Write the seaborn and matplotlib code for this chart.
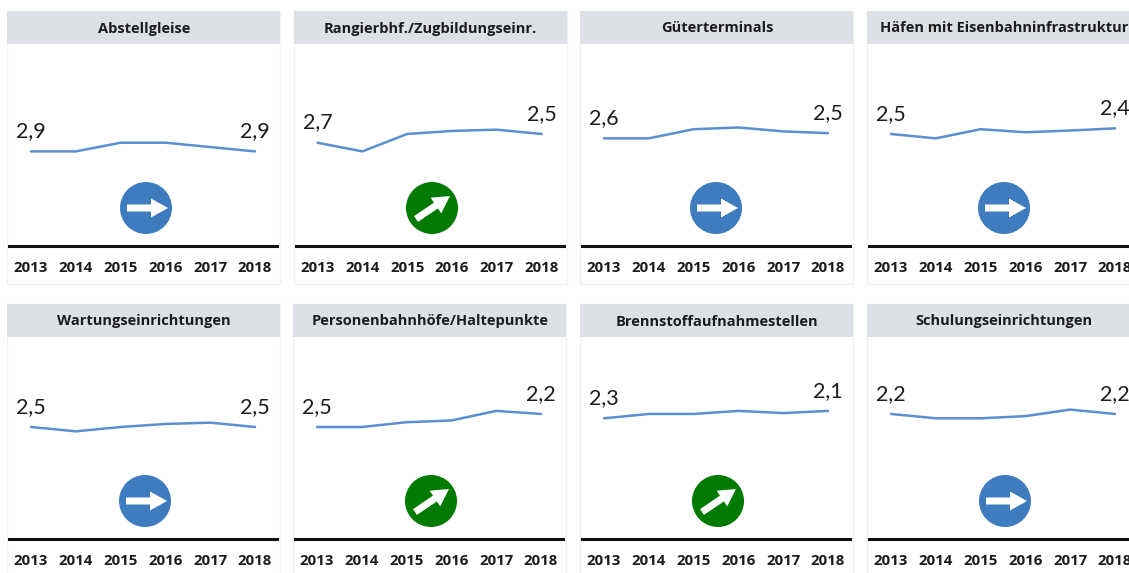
import matplotlib
matplotlib.use("Agg")
import matplotlib.pyplot as plt
import seaborn as sns
from matplotlib.patches import Circle, FancyArrow, Rectangle
from matplotlib.transforms import IdentityTransform

W, H = 1129, 573

years = [2013, 2014, 2015, 2016, 2017, 2018]

titles = [
    "Abstellgleise", "Rangierbhf./Zugbildungseinr.",
    "Güterterminals", "Häfen mit Eisenbahninfrastruktur",
    "Wartungseinrichtungen", "Personenbahnhöfe/Haltepunkte",
    "Brennstoffaufnahmestellen", "Schulungseinrichtungen",
]

abstell = [2.9, 2.9, 2.7, 2.7, 2.8, 2.9]
rangier = [2.7, 2.9, 2.5, 2.43, 2.4, 2.5]
gueter = [2.6, 2.6, 2.39, 2.35, 2.44, 2.48]
haefen = [2.5, 2.6, 2.39, 2.46, 2.42, 2.37]
wartung = [2.5, 2.6, 2.5, 2.43, 2.4, 2.5]
personen = [2.5, 2.5, 2.39, 2.35, 2.13, 2.2]
brennstoff = [2.3, 2.2, 2.2, 2.13, 2.18, 2.13]
schulung = [2.2, 2.3, 2.3, 2.25, 2.1, 2.2]

series = [abstell, rangier, gueter, haefen, wartung, personen, brennstoff, schulung]

first_labels = ["2,9", "2,7", "2,6", "2,5", "2,5", "2,5", "2,3", "2,2"]
last_labels = ["2,9", "2,5", "2,5", "2,4", "2,5", "2,2", "2,1", "2,2"]
trends = ["flat", "up", "flat", "flat", "flat", "up", "up", "flat"]

LINE = "#5b8fd0"
BLUE = "#3f7cbf"
GREEN = "#007a00"
HEADER = "#dde1e5"
EDGE = "#f1f2f3"
TEXT = "#1c1c1c"

sns.set_theme(style="white")
plt.rcParams["font.family"] = ["Open Sans", "DejaVu Sans"]

fig = plt.figure(figsize=(W / 100, H / 100), dpi=100)

# panel left edges, header tops and icon centres in pixels
lefts = [7, 293.5, 580, 867, 7, 293, 580, 867]
tops = [11, 11, 11, 11, 304, 304, 304, 304]
icon_x = [146, 432, 716, 1004, 145, 431, 718, 1005]
PANEL_W = 273
SPACING = 44.8


def flip(y):
    return H - y


def add_icon(cx, cy, trend):
    color = GREEN if trend == "up" else BLUE
    fig.add_artist(Circle((cx, flip(cy)), 26, transform=IdentityTransform(), fc=color, ec="none", zorder=6))
    if trend == "up":
        start, dx, dy = (cx - 16, flip(cy + 11)), 34, 23
    else:
        start, dx, dy = (cx - 19, flip(cy)), 41, 0
    fig.add_artist(FancyArrow(start[0], start[1], dx, dy, width=7, head_width=19, head_length=17,
                              length_includes_head=True, transform=IdentityTransform(),
                              fc="white", ec="none", zorder=7))


for i, vals in enumerate(series):
    x0, y0 = lefts[i], tops[i]
    line_y = y0 + 235
    # white panel frame and grey header
    fig.add_artist(Rectangle((x0, flip(y0 + 273)), PANEL_W, 273, transform=IdentityTransform(),
                             fc="white", ec=EDGE, lw=1, zorder=-2))
    fig.add_artist(Rectangle((x0, flip(y0 + 33)), PANEL_W, 33, transform=IdentityTransform(),
                             fc=HEADER, ec="none", zorder=-1))
    fig.text((x0 + PANEL_W / 2 + 0.5) / W, flip(y0 + 16) / H, titles[i], ha="center", va="center_baseline",
             fontsize=10.5, fontweight="bold", color=TEXT)

    ax = fig.add_axes([(x0 + 2) / W, flip(line_y) / H, 268 / W, 202 / H])
    ax.patch.set_alpha(0)
    sns.lineplot(x=years, y=vals, ax=ax, color=LINE, linewidth=1.8, errorbar=None)
    ax.set_xlim(2013 - 22 / SPACING, 2013 + 246 / SPACING)
    # inverted grade scale: lower values sit higher
    ax.set_ylim(2.5 + 112 / 43.5, 2.5 - 90 / 43.5)
    ax.set_xticks(years)
    ax.set_xticklabels([str(y) for y in years], fontsize=10.8, fontweight="bold", color=TEXT)
    ax.set_yticks([])
    ax.tick_params(axis="x", length=0, pad=11)
    for side in ["top", "left", "right"]:
        ax.spines[side].set_visible(False)
    ax.spines["bottom"].set_color("#111111")
    ax.spines["bottom"].set_linewidth(2.2)
    ax.set_xlabel("")
    ax.set_ylabel("")

    ax.annotate(first_labels[i], (years[0], vals[0]), xytext=(0, 14.5), textcoords="offset points",
                ha="center", va="center", fontsize=15.5, family="Lato", color=TEXT, annotation_clip=False)
    ax.annotate(last_labels[i], (years[-1], vals[-1]), xytext=(0, 14.5), textcoords="offset points",
                ha="center", va="center", fontsize=15.5, family="Lato", color=TEXT, annotation_clip=False)

    add_icon(icon_x[i], y0 + 197, trends[i])

fig.savefig("out.png", dpi=100, facecolor="white")
